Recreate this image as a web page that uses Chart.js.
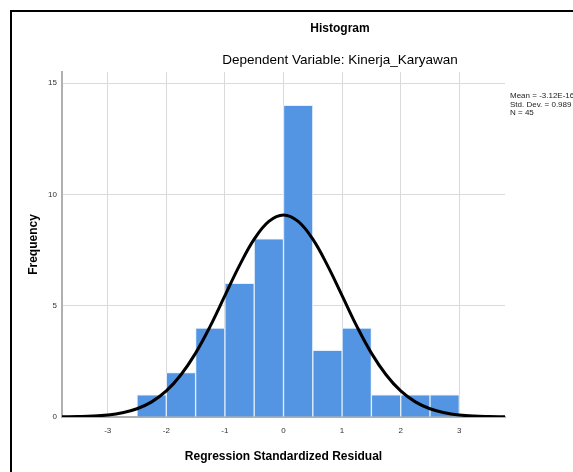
<!DOCTYPE html>
<html>
<head>
<meta charset="utf-8">
<script src="https://cdn.jsdelivr.net/npm/chart.js@4.4.1/dist/chart.umd.min.js"></script>
<style>
  html, body { margin: 0; padding: 0; background: #fff; overflow: hidden; }
  #wrap { position: relative; width: 573px; height: 472px; overflow: hidden; }
  #frame { position: absolute; left: 10px; top: 10px; width: 620px; height: 520px; border: 2px solid #000; pointer-events: none; }
  canvas { position: absolute; left: 0; top: 0; }
</style>
</head>
<body>
<div id="wrap">
  <canvas id="chart" width="573" height="472"></canvas>
  <div id="frame"></div>
</div>
<script>
// histogram bins (width 0.5)
const binCenters = [-2.25, -1.75, -1.25, -0.75, -0.25, 0.25, 0.75, 1.25, 1.75, 2.25, 2.75];
const frequencies = [1, 2, 4, 6, 8, 14, 3, 4, 1, 1, 1];

// normal curve
const curveX = [-3.78, -3.5, -3.25, -3, -2.75, -2.5, -2.25, -2, -1.75, -1.5, -1.25, -1, -0.75, -0.5, -0.25,
                0, 0.25, 0.5, 0.75, 1, 1.25, 1.5, 1.75, 2, 2.25, 2.5, 2.75, 3, 3.25, 3.5, 3.78];
const curveY = [0.01, 0.02, 0.04, 0.09, 0.19, 0.37, 0.68, 1.17, 1.9, 2.87, 4.08, 5.45, 6.81, 7.99, 8.79,
                9.08, 8.79, 7.99, 6.81, 5.45, 4.08, 2.87, 1.9, 1.17, 0.68, 0.37, 0.19, 0.09, 0.04, 0.02, 0.01];

const xTicks = [-3, -2, -1, 0, 1, 2, 3];
const yTicks = [0, 5, 10, 15];

const chartTitle = 'Histogram';
const chartSubtitle = 'Dependent Variable: Kinerja_Karyawan';
const statsLines = ['Mean = -3.12E-16', 'Std. Dev. = 0.989', 'N = 45'];

const FONT = '"Liberation Sans", Arial, sans-serif';
const NARROW = '"Liberation Sans Narrow", "Arial Narrow", "Liberation Sans", Arial, sans-serif';

const textPlugin = {
  id: 'spssText',
  afterDraw(chart) {
    const ctx = chart.ctx;
    ctx.save();
    ctx.fillStyle = '#000';
    ctx.textAlign = 'center';
    ctx.textBaseline = 'middle';
    ctx.font = 'bold 12px ' + FONT;
    ctx.fillText(chartTitle, 340, 29);
    ctx.font = '13.5px ' + FONT;
    ctx.fillText(chartSubtitle, 340, 60);

    ctx.textAlign = 'left';
    ctx.font = '8px ' + NARROW;
    ctx.fillStyle = '#222';
    statsLines.forEach((s, i) => ctx.fillText(s, 510, 96 + i * 8.5));
    ctx.restore();
  }
};

new Chart(document.getElementById('chart'), {
  data: {
    datasets: [
      {
        type: 'line',
        data: curveX.map((x, i) => ({ x: x, y: curveY[i] })),
        borderColor: '#000',
        borderWidth: 3,
        pointRadius: 0,
        tension: 0.4,
        order: 0
      },
      {
        type: 'bar',
        data: binCenters.map((x, i) => ({ x: x, y: frequencies[i] })),
        backgroundColor: '#5394e3',
        borderColor: 'rgba(225, 238, 252, 0.9)',
        borderWidth: 1,
        barPercentage: 1,
        categoryPercentage: 1,
        order: 1
      }
    ]
  },
  options: {
    responsive: false,
    animation: false,
    layout: { padding: { top: 72, right: 68, left: 0, bottom: 0 } },
    plugins: {
      legend: { display: false },
      tooltip: { enabled: false }
    },
    scales: {
      x: {
        type: 'linear',
        offset: false,
        min: -3.78,
        max: 3.78,
        afterBuildTicks: s => { s.ticks = xTicks.map(v => ({ value: v })); },
        afterFit: s => { s.height = 55; },
        grid: { color: '#dadada', lineWidth: 1, drawTicks: false, offset: false },
        border: { color: '#b0b0b0', width: 2 },
        ticks: { padding: 9, color: '#333', font: { family: FONT, size: 8 } },
        title: {
          display: true,
          text: 'Regression Standardized Residual',
          color: '#000',
          font: { family: FONT, size: 12, weight: 'bold' },
          padding: { top: 0, bottom: 8 }
        }
      },
      y: {
        min: 0,
        max: 15.5,
        afterBuildTicks: s => { s.ticks = yTicks.map(v => ({ value: v })); },
        afterFit: s => { s.width = 62; },
        grid: { color: '#dadada', lineWidth: 1, drawTicks: false },
        border: { color: '#b0b0b0', width: 2 },
        ticks: { padding: 5, color: '#333', font: { family: FONT, size: 8 } },
        title: {
          display: true,
          text: 'Frequency',
          color: '#000',
          font: { family: FONT, size: 12, weight: 'bold' },
          padding: { top: 26, bottom: 0 }
        }
      }
    }
  },
  plugins: [textPlugin]
});
</script>
</body>
</html>
